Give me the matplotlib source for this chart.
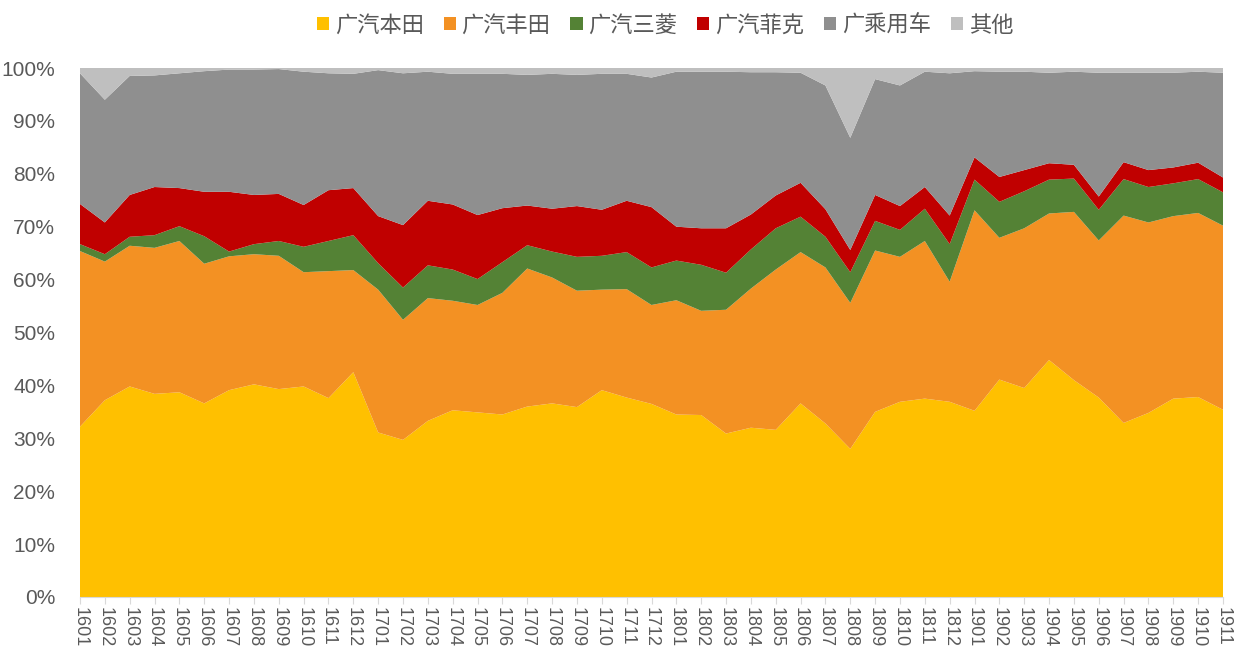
import numpy as np
import matplotlib
matplotlib.use("Agg")
import matplotlib.pyplot as plt
from matplotlib.patches import Patch

months = ["1601","1602","1603","1604","1605","1606","1607","1608","1609","1610","1611","1612",
          "1701","1702","1703","1704","1705","1706","1707","1708","1709","1710","1711","1712",
          "1801","1802","1803","1804","1805","1806","1807","1808","1809","1810","1811","1812",
          "1901","1902","1903","1904","1905","1906","1907","1908","1909","1910","1911"]

honda = [32.2,37.2,39.8,38.4,38.7,36.6,39.1,40.2,39.3,39.8,37.6,42.5,
         31.1,29.7,33.3,35.3,34.9,34.5,36.0,36.6,35.9,39.1,37.7,36.5,
         34.5,34.4,30.9,32.0,31.6,36.6,32.8,28.0,35.0,36.9,37.5,36.9,
         35.2,41.1,39.5,44.8,41.0,37.7,32.9,34.8,37.5,37.8,35.4]
toyota = [33.2,26.2,26.6,27.6,28.6,26.4,25.3,24.6,25.2,21.6,24.0,19.3,
          27.0,22.7,23.2,20.7,20.3,23.0,26.1,23.8,22.0,19.0,20.5,18.7,
          21.6,19.7,23.4,26.3,30.3,28.6,29.5,27.6,30.5,27.4,29.8,22.7,
          37.9,26.8,30.2,27.7,31.8,29.7,39.2,36.0,34.5,34.8,34.8]
mitsubishi = [1.3,1.4,1.7,2.4,2.8,5.2,0.9,1.9,2.8,4.8,5.7,6.6,
              5.0,6.1,6.2,5.9,4.9,5.8,4.4,4.9,6.4,6.4,7.0,7.1,
              7.5,8.7,7.0,7.4,7.8,6.7,5.8,5.8,5.6,5.1,6.1,7.1,
              5.8,6.8,7.0,6.4,6.3,5.8,6.9,6.7,6.2,6.4,6.3]
fca = [7.6,6.0,7.9,9.1,7.2,8.4,11.3,9.3,8.9,7.9,9.6,8.9,
       8.9,11.8,12.2,12.3,12.1,10.2,7.5,8.1,9.6,8.7,9.7,11.4,
       6.4,6.9,8.4,6.6,6.2,6.4,5.2,4.2,4.9,4.5,4.1,5.4,
       4.2,4.7,4.0,3.1,2.6,2.5,3.2,3.2,3.0,3.1,2.8]
gac = [24.7,23.2,22.5,21.1,21.7,22.8,23.1,23.7,23.6,25.2,22.1,21.6,
       27.6,28.7,24.4,24.7,26.7,25.4,24.7,25.5,24.8,25.7,24.0,24.5,
       29.3,29.6,29.6,26.9,23.3,20.8,23.4,21.2,21.9,22.8,21.8,26.9,
       16.3,19.9,18.6,17.1,17.6,23.4,16.9,18.4,17.9,17.2,19.8]
other = [1.0,6.0,1.5,1.4,1.0,0.6,0.3,0.3,0.2,0.7,1.0,1.1,
         0.4,1.0,0.7,1.1,1.1,1.1,1.3,1.1,1.3,1.1,1.1,1.8,
         0.7,0.7,0.7,0.8,0.8,0.9,3.3,13.2,2.1,3.3,0.7,1.0,
         0.6,0.7,0.7,0.9,0.7,0.9,0.9,0.9,0.9,0.7,0.9]

series_names = ["广汽本田", "广汽丰田", "广汽三菱", "广汽菲克", "广乘用车", "其他"]
colors = ["#FFC000", "#F39123", "#548235", "#C00000", "#8F8F8F", "#BFBFBF"]

data = np.array([honda, toyota, mitsubishi, fca, gac, other], dtype=float)
data = data / data.sum(axis=0)

fig = plt.figure(figsize=(12.37, 6.61), dpi=100)
ax = fig.add_axes([80/1237, 1-597/661, (1223-80)/1237, (597-68)/661])
x = np.arange(len(months))
ax.stackplot(x, data, colors=colors, linewidth=0)

ax.set_xlim(0, len(months)-1)
ax.set_ylim(0, 1)
ax.set_yticks(np.arange(0, 1.01, 0.1))
ax.set_yticklabels([f"{int(round(v*100))}%" for v in np.arange(0, 1.01, 0.1)])
ax.set_xticks(x)
ax.set_xticklabels(months, rotation=-90)

tick_font = ["Liberation Sans Narrow", "Liberation Sans", "DejaVu Sans"]
for lab in ax.get_yticklabels():
    lab.set_fontfamily(tick_font)
    lab.set_fontsize(15)
    lab.set_color("#595959")
for lab in ax.get_xticklabels():
    lab.set_fontfamily(tick_font)
    lab.set_fontsize(13)
    lab.set_color("#595959")

for s in ["top", "right", "left"]:
    ax.spines[s].set_visible(False)
ax.spines["bottom"].set_color("#D9D9D9")
ax.tick_params(axis="y", length=0, pad=18)
ax.tick_params(axis="x", length=5, color="#D9D9D9", pad=2)

handles = [Patch(facecolor=c, edgecolor="none") for c in colors]
leg = fig.legend(handles, series_names, loc="center", bbox_to_anchor=(665/1237, 1-25/661),
                 ncol=6, frameon=False, handlelength=0.55, handleheight=0.55,
                 handletextpad=0.25, columnspacing=0.9,
                 prop={"family": ["Noto Sans CJK SC", "DejaVu Sans"], "size": 16})
for t in leg.get_texts():
    t.set_color("#595959")

fig.savefig("out.png", dpi=100)
